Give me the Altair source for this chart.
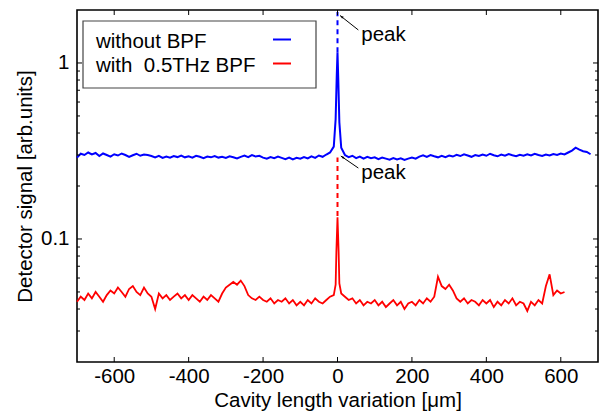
import altair as alt
import pandas as pd

# ---------------- data ----------------
blue_x = list(range(-700, -5, 10)) + [-5, -2, 0, 2, 5] + list(range(10, 690, 10))
blue_y = [
    0.290, 0.305, 0.300, 0.310, 0.302, 0.308, 0.296, 0.306, 0.300, 0.294,
    0.303, 0.298, 0.306, 0.300, 0.293, 0.299, 0.305, 0.297, 0.302, 0.300,
    0.296, 0.291, 0.297, 0.289, 0.294, 0.290, 0.296, 0.292, 0.298, 0.291,
    0.295, 0.290, 0.297, 0.293, 0.288, 0.294, 0.291, 0.296, 0.290, 0.293,
    0.289, 0.295, 0.291, 0.287, 0.293, 0.298, 0.292, 0.300, 0.294, 0.297,
    0.290, 0.286, 0.292, 0.288, 0.294, 0.289, 0.284, 0.290, 0.283, 0.289,
    0.286, 0.292, 0.287, 0.295, 0.289, 0.298, 0.293, 0.302, 0.310, 0.335,
    0.48, 0.85,
    1.15, 0.82, 0.46,
    0.330, 0.300, 0.292, 0.297, 0.288, 0.294, 0.286, 0.293, 0.288,
    0.291, 0.284, 0.290, 0.286, 0.282, 0.288, 0.283, 0.287, 0.281, 0.286,
    0.290, 0.286, 0.294, 0.299, 0.293, 0.300, 0.295, 0.291, 0.297, 0.292,
    0.298, 0.294, 0.301, 0.296, 0.303, 0.298, 0.293, 0.300, 0.296, 0.302,
    0.297, 0.305, 0.299, 0.295, 0.302, 0.297, 0.304, 0.299, 0.295, 0.301,
    0.297, 0.303, 0.298, 0.305, 0.300, 0.296, 0.302, 0.298, 0.304, 0.300,
    0.306, 0.302, 0.310, 0.318, 0.330, 0.322, 0.315, 0.312, 0.303,
]

red_x = list(range(-700, -5, 10)) + [-5, -3, 0, 3, 5] + list(range(10, 620, 10))
red_y = [
    0.044, 0.047, 0.045, 0.049, 0.046, 0.050, 0.047, 0.044, 0.048, 0.051,
    0.049, 0.053, 0.050, 0.047, 0.052, 0.054, 0.050, 0.048, 0.053, 0.049,
    0.047, 0.040, 0.049, 0.046, 0.048, 0.045, 0.047, 0.049, 0.046, 0.048,
    0.045, 0.048, 0.046, 0.044, 0.047, 0.045, 0.048, 0.046, 0.044, 0.049,
    0.053, 0.055, 0.057, 0.055, 0.058, 0.054, 0.048, 0.046, 0.045, 0.047,
    0.045, 0.044, 0.046, 0.043, 0.045, 0.044, 0.046, 0.043, 0.045, 0.042,
    0.044, 0.042, 0.045, 0.043, 0.046, 0.044, 0.043, 0.045, 0.047, 0.048,
    0.055, 0.085,
    0.133, 0.085, 0.056,
    0.049, 0.047, 0.045, 0.046, 0.043, 0.045, 0.042, 0.044, 0.043,
    0.045, 0.042, 0.044, 0.041, 0.043, 0.045, 0.042, 0.044, 0.040, 0.043,
    0.044, 0.042, 0.045, 0.043, 0.046, 0.044, 0.047, 0.061, 0.054, 0.052,
    0.055, 0.051, 0.046, 0.044, 0.046, 0.043, 0.045, 0.044, 0.042, 0.045,
    0.043, 0.045, 0.041, 0.044, 0.042, 0.045, 0.043, 0.046, 0.042, 0.044,
    0.043, 0.039, 0.044, 0.042, 0.045, 0.043, 0.054, 0.063, 0.048, 0.051,
    0.049, 0.050,
]

# dashed guide lines at the peak
blue_dash_x = [0, 0]
blue_dash_y = [1.15, 1.95]
red_dash_x = [0, 0]
red_dash_y = [0.135, 0.29]

# "peak" annotations (text position, arrow tail, arrow tip)
peak_text_x = [64, 64]
peak_text_y = [1.45, 0.236]
arrow_tail_x = [56, 56]
arrow_tail_y = [1.54, 0.253]
arrow_tip_x = [7, 9]
arrow_tip_y = [1.86, 0.296]
arrow_angle = [308, 304]

x_ticks = [-600, -400, -200, 0, 200, 400, 600]
y_major = [0.1, 1]
y_minor = [0.03, 0.04, 0.05, 0.06, 0.07, 0.08, 0.09,
           0.2, 0.3, 0.4, 0.5, 0.6, 0.7, 0.8, 0.9]

legend_labels = ["without BPF", "with\u00a0 0.5THz BPF"]
legend_colors = ["#0000ff", "#ff0000"]

# ---------------- chart ----------------
W, H = 521, 352
FONT = "Liberation Sans"
FS = 20.5

x_scale = alt.Scale(domain=[-700, 700], nice=False, zero=False)
y_scale = alt.Scale(type="log", domain=[0.02, 2], nice=False)
x_axis = alt.Axis(values=x_ticks, title="Cavity length variation [\u03bcm]",
                  labelExpr="'' + datum.value",
                  labelPadding=4, titlePadding=4)
y_axis = alt.Axis(values=y_major, format="~g", title="Detector signal [arb.units]",
                  labelPadding=8, titlePadding=5)


def X():
    return alt.X("x:Q", scale=x_scale, axis=x_axis)


def Y():
    return alt.Y("y:Q", scale=y_scale, axis=y_axis)


blue_df = pd.DataFrame({"x": blue_x, "y": blue_y})
red_df = pd.DataFrame({"x": red_x, "y": red_y})

blue_line = alt.Chart(blue_df).mark_line(color="#0000ff", strokeWidth=2).encode(x=X(), y=Y())
red_line = alt.Chart(red_df).mark_line(color="#ff0000", strokeWidth=1.8).encode(x=X(), y=Y())

blue_dash = alt.Chart(pd.DataFrame({"x": blue_dash_x, "y": blue_dash_y})).mark_line(
    color="#0000ff", strokeWidth=2, strokeDash=[5, 4]).encode(x=X(), y=Y())
red_dash = alt.Chart(pd.DataFrame({"x": red_dash_x, "y": red_dash_y})).mark_line(
    color="#ff0000", strokeWidth=2, strokeDash=[5, 4]).encode(x=X(), y=Y())

arrow_rows = []
for i in range(len(arrow_tip_x)):
    arrow_rows.append({"id": i, "x": arrow_tail_x[i], "y": arrow_tail_y[i]})
    arrow_rows.append({"id": i, "x": arrow_tip_x[i], "y": arrow_tip_y[i]})
arrows = alt.Chart(pd.DataFrame(arrow_rows)).mark_line(color="black", strokeWidth=1).encode(
    x=X(), y=Y(), detail="id:N")
heads = alt.Chart(pd.DataFrame({"x": arrow_tip_x, "y": arrow_tip_y, "a": arrow_angle})).mark_point(
    shape="M0,0L-0.45,1.3L0.45,1.3Z", filled=True, color="black", size=30, opacity=1).encode(
    x=X(), y=Y(), angle=alt.Angle("a:Q", scale=None))
peak_text = alt.Chart(pd.DataFrame({"x": peak_text_x, "y": peak_text_y,
                                    "t": ["peak", "peak"]})).mark_text(
    align="left", baseline="middle", font=FONT, fontSize=FS, color="black").encode(
    x=X(), y=Y(), text="t:N")

# inward ticks on all four sides
xt_df = pd.DataFrame({"x": x_ticks})
ymaj_df = pd.DataFrame({"y": y_major})
ymin_df = pd.DataFrame({"y": y_minor})
tick_layers = []
for y0, y1 in [(H, H - 5), (0, 5)]:
    tick_layers.append(alt.Chart(xt_df).mark_rule(color="black", strokeWidth=1).encode(
        x=X(), y=alt.value(y0), y2=alt.value(y1)))
for df, ln in [(ymaj_df, 5), (ymin_df, 3)]:
    for x0, x1 in [(0, ln), (W - ln, W)]:
        tick_layers.append(alt.Chart(df).mark_rule(color="black", strokeWidth=1).encode(
            y=Y(), x=alt.value(x0), x2=alt.value(x1)))

# legend (labels first, line swatch to the right)
one = pd.DataFrame({"a": [0]})
legend_layers = [alt.Chart(one).mark_rect(fill="white", stroke="#444444", strokeWidth=1.2).encode(
    x=alt.value(6), x2=alt.value(239), y=alt.value(11), y2=alt.value(78))]
for i, (lab, col) in enumerate(zip(legend_labels, legend_colors)):
    yy = 32 + 24 * i
    legend_layers.append(alt.Chart(one).mark_text(
        align="left", baseline="middle", font=FONT, fontSize=FS, color="black").encode(
        x=alt.value(19), y=alt.value(yy), text=alt.value(lab)))
    legend_layers.append(alt.Chart(one).mark_rule(color=col, strokeWidth=2).encode(
        x=alt.value(196), x2=alt.value(214), y=alt.value(yy - 2.5)))

chart = alt.layer(
    blue_line, red_line, blue_dash, red_dash, arrows, heads, peak_text,
    *tick_layers, *legend_layers,
).properties(
    width=W, height=H,
    autosize=alt.AutoSizeParams(type="none"),
    padding={"left": 77, "top": 10, "right": 2, "bottom": 56},
    background="white",
).configure_view(
    stroke="black", strokeWidth=1.6,
).configure_axis(
    domain=False, grid=False, ticks=False, tickSize=0,
    labelFont=FONT, labelFontSize=FS, labelColor="black",
    titleFont=FONT, titleFontSize=FS, titleFontWeight="normal", titleColor="black",
)

chart.save("out.html", embed_options={"renderer": "svg", "actions": False})
